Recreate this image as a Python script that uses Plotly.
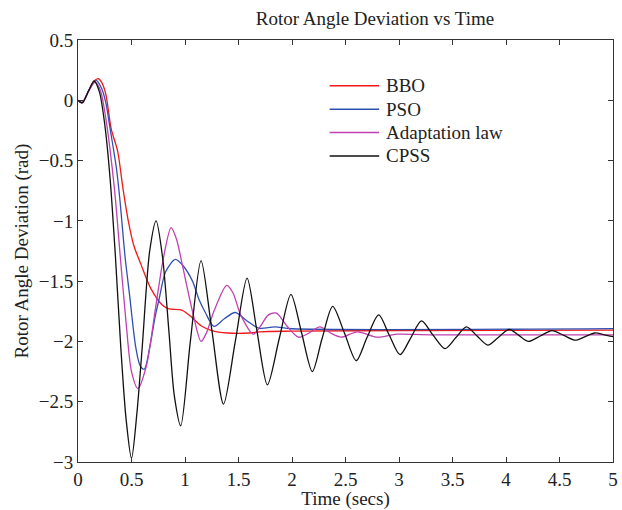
import plotly.graph_objects as go

# ---- data ----
t_bbo = [0, 0.04, 0.1, 0.15, 0.19, 0.22, 0.26, 0.31, 0.37, 0.42, 0.47, 0.52, 0.59, 0.68,
         0.79, 0.85, 0.97, 1.05, 1.15, 1.25, 1.4, 1.6, 1.7, 2.0, 3.0, 5.0]
y_bbo = [0, -0.02, 0.08, 0.16, 0.18, 0.15, 0.05, -0.235, -0.42, -0.73, -1.0, -1.2, -1.365, -1.56,
         -1.70, -1.73, -1.74, -1.79, -1.87, -1.91, -1.93, -1.93, -1.92, -1.915, -1.91, -1.907]

t_pso = [0, 0.04, 0.1, 0.17, 0.22, 0.26, 0.30, 0.36, 0.39, 0.44, 0.48, 0.54, 0.58, 0.62, 0.67,
         0.72, 0.76, 0.82, 0.91, 0.98, 1.07, 1.13, 1.19, 1.27, 1.37, 1.47, 1.58, 1.69, 1.84, 2.0, 5.0]
y_pso = [0, -0.02, 0.08, 0.165, 0.1, -0.02, -0.235, -0.57, -0.81, -1.3, -1.6, -2.05, -2.2, -2.23, -2.05,
         -1.8, -1.64, -1.42, -1.32, -1.37, -1.50, -1.65, -1.76, -1.875, -1.81, -1.76, -1.83, -1.89, -1.88, -1.895, -1.894]

t_adp = [0, 0.04, 0.1, 0.16, 0.21, 0.26, 0.34, 0.40, 0.45, 0.50, 0.56, 0.64, 0.72, 0.80, 0.87,
         0.92, 0.975, 1.07, 1.15, 1.2, 1.27, 1.39, 1.45, 1.52, 1.64, 1.70, 1.78, 1.855, 1.95, 2.06,
         2.16, 2.26, 2.36, 2.46, 2.61, 2.80, 2.98, 3.3, 5.0]
y_adp = [0, -0.02, 0.08, 0.15, 0.08, -0.15, -0.73, -1.35, -1.85, -2.25, -2.39, -2.2, -1.75, -1.3, -1.056,
         -1.15, -1.365, -1.75, -2.0, -1.93, -1.75, -1.535, -1.6, -1.78, -1.94, -1.88, -1.78, -1.765, -1.87, -1.965,
         -1.93, -1.88, -1.93, -1.965, -1.92, -1.965, -1.94, -1.945, -1.945]

t_cpss = [0, 0.04, 0.1, 0.15, 0.2, 0.25, 0.3, 0.35, 0.4, 0.45, 0.5, 0.55, 0.6, 0.67, 0.73, 0.79,
          0.85, 0.9, 0.96, 1.05, 1.15, 1.25, 1.36, 1.47, 1.58, 1.67, 1.77, 1.88, 1.99, 2.09, 2.19,
          2.28, 2.38, 2.49, 2.60, 2.70, 2.81, 2.91, 3.01, 3.11, 3.21, 3.32, 3.43, 3.53, 3.63, 3.73,
          3.83, 3.93, 4.03, 4.12, 4.21, 4.32, 4.43, 4.54, 4.65, 4.74, 4.83, 4.92, 5.0]
y_cpss = [0, -0.02, 0.08, 0.16, 0.07, -0.2, -0.65, -1.3, -2.05, -2.65, -2.97, -2.6, -2.05, -1.25, -1.0, -1.3,
          -1.92, -2.45, -2.70, -2.0, -1.33, -1.9, -2.52, -2.0, -1.475, -1.9, -2.36, -1.98, -1.61, -1.93, -2.25,
          -1.98, -1.71, -1.93, -2.16, -1.97, -1.78, -1.95, -2.11, -1.97, -1.83, -1.95, -2.06, -1.97, -1.88, -1.955,
          -2.03, -1.965, -1.90, -1.95, -2.00, -1.955, -1.91, -1.95, -1.99, -1.96, -1.93, -1.945, -1.96]

series_names = ["BBO", "PSO", "Adaptation law", "CPSS"]
series_colors = ["#f01818", "#3050b0", "#c040b0", "#111111"]

x_ticks = [0, 0.5, 1, 1.5, 2, 2.5, 3, 3.5, 4, 4.5, 5]
x_ticklabels = ["0", "0.5", "1", "1.5", "2", "2.5", "3", "3.5", "4", "4.5", "5"]
y_ticks = [0.5, 0, -0.5, -1, -1.5, -2, -2.5, -3]
y_ticklabels = ["0.5", "0", "\u22120.5", "\u22121", "\u22121.5", "\u22122", "\u22122.5", "\u22123"]

FONT = "Liberation Serif"
TXT = "#222222"
W, H = 622, 510
ML, MR, MT, MB = 78, 4, 40, 46
PW, PH = W - ML - MR, H - MT - MB

fig = go.Figure()
all_t = [t_bbo, t_pso, t_adp, t_cpss]
all_y = [y_bbo, y_pso, y_adp, y_cpss]
for name, t, y, c in zip(series_names, all_t, all_y, series_colors):
    fig.add_trace(go.Scatter(x=t, y=y, name=name, mode="lines", showlegend=False,
                             line=dict(color=c, width=1.3, shape="spline", smoothing=0.8)))

# legend drawn as in the reference (long line samples, tight rows)
leg_x0, leg_x1, leg_tx = 332, 382, 387
leg_rows = [86, 109.5, 133, 156.5]
for name, c, py in zip(series_names, series_colors, leg_rows):
    yp = (H - MB - py) / PH
    fig.add_shape(type="line", xref="paper", yref="paper",
                  x0=(leg_x0 - ML) / PW, x1=(leg_x1 - ML) / PW, y0=yp, y1=yp,
                  line=dict(color=c, width=1.5))
    fig.add_annotation(xref="paper", yref="paper", x=(leg_tx - ML) / PW, y=yp,
                       text=name, showarrow=False, xanchor="left", yanchor="middle",
                       font=dict(family=FONT, size=19, color=TXT))

axis_common = dict(showgrid=False, zeroline=False, showline=True, mirror="allticks",
                   linecolor="#333333", linewidth=1, ticks="inside", ticklen=5,
                   tickcolor="#333333", tickfont=dict(family=FONT, size=19, color=TXT))
fig.update_xaxes(range=[0, 5], tickvals=x_ticks, ticktext=x_ticklabels,
                 title=dict(text="Time (secs)", font=dict(family=FONT, size=19, color=TXT), standoff=3),
                 **axis_common)
fig.update_yaxes(range=[-3, 0.5], tickvals=y_ticks, ticktext=y_ticklabels,
                 title=dict(text="Rotor Angle Deviation (rad)", font=dict(family=FONT, size=19, color=TXT), standoff=5),
                 **axis_common)

fig.update_layout(
    width=W, height=H,
    margin=dict(l=ML, r=MR, t=MT, b=MB),
    paper_bgcolor="white", plot_bgcolor="white",
    title=dict(text="Rotor Angle Deviation vs Time", x=375 / W, xanchor="center",
               y=1 - 18 / H, yanchor="middle",
               font=dict(family=FONT, size=19, color=TXT)),
    showlegend=False,
)

fig.write_html("out.html")
